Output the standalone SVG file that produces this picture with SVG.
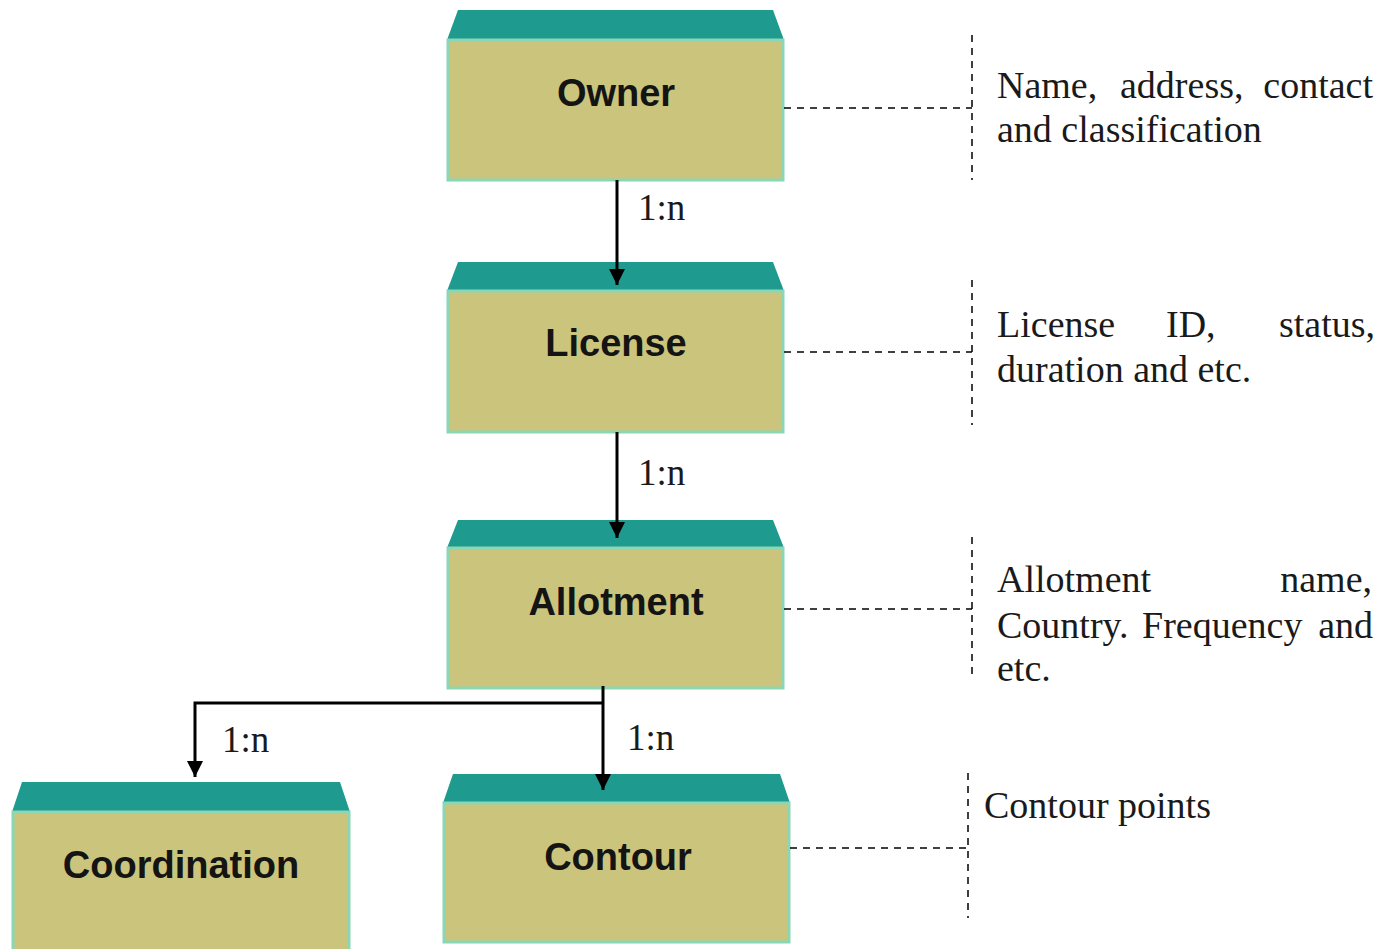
<svg xmlns="http://www.w3.org/2000/svg" width="1385" height="949" viewBox="0 0 1385 949">
<style>
.top{fill:#1f9a8f;}
.body{fill:#cbc47c;stroke:#8ad7b6;stroke-width:3;}
.lbl{font-family:"Liberation Sans",Arial,sans-serif;font-weight:bold;font-size:38px;fill:#141414;text-anchor:middle;}
.note{font-family:"Liberation Serif","Times New Roman",serif;font-size:38px;fill:#1a1a1a;}
.rel{font-family:"Liberation Serif","Times New Roman",serif;font-size:37px;fill:#1a1a1a;}
.conn{stroke:#000;stroke-width:3;fill:none;}
.dash{stroke:#000;stroke-width:1.5;fill:none;stroke-dasharray:7 6;}
</style>
<defs>
<marker id="arr" markerUnits="userSpaceOnUse" markerWidth="16" markerHeight="18" refX="16" refY="8" orient="auto">
<path d="M0,0 L16,8 L0,16 Z" fill="#000"/>
</marker>
</defs>
<rect x="0" y="0" width="1385" height="949" fill="#fff"/>
<g id="owner">
<polygon class="top" points="458,10 773,10 784,40 447,40"/>
<rect class="body" x="448" y="40" width="335" height="140"/>
<text class="lbl" x="616" y="106">Owner</text>
</g>
<g id="license">
<polygon class="top" points="458,262 773,262 784,291 447,291"/>
<rect class="body" x="448" y="291" width="335" height="141"/>
<text class="lbl" x="616" y="356">License</text>
</g>
<g id="allotment">
<polygon class="top" points="458,520 773,520 784,548 447,548"/>
<rect class="body" x="448" y="548" width="335" height="140"/>
<text class="lbl" x="616" y="615">Allotment</text>
</g>
<g id="coordination">
<polygon class="top" points="22,782 340,782 350,812 12,812"/>
<rect class="body" x="13" y="812" width="336" height="140"/>
<text class="lbl" x="181" y="878">Coordination</text>
</g>
<g id="contour">
<polygon class="top" points="453,774 780,774 790,803 443,803"/>
<rect class="body" x="444" y="803" width="345" height="139"/>
<text class="lbl" x="618" y="870">Contour</text>
</g>
<g id="connectors">
<line class="conn" x1="617" y1="180" x2="617" y2="285" marker-end="url(#arr)"/>
<line class="conn" x1="617" y1="432" x2="617" y2="538" marker-end="url(#arr)"/>
<line class="conn" x1="603" y1="686" x2="603" y2="790" marker-end="url(#arr)"/>
<polyline class="conn" points="603,703 195,703 195,777" marker-end="url(#arr)"/>
<text class="rel" x="638" y="220">1:n</text>
<text class="rel" x="638" y="485">1:n</text>
<text class="rel" x="222" y="752">1:n</text>
<text class="rel" x="627" y="750">1:n</text>
<line class="dash" x1="784" y1="108" x2="972" y2="108"/>
<line class="dash" x1="972" y1="35" x2="972" y2="180"/>
<line class="dash" x1="784" y1="352" x2="972" y2="352"/>
<line class="dash" x1="972" y1="280" x2="972" y2="425"/>
<line class="dash" x1="784" y1="609" x2="972" y2="609"/>
<line class="dash" x1="972" y1="537" x2="972" y2="680"/>
<line class="dash" x1="790" y1="848" x2="968" y2="848"/>
<line class="dash" x1="968" y1="773" x2="968" y2="918"/>
</g>
<g id="notes">
<text class="note" x="997" y="98">Name,</text>
<text class="note" x="1120" y="98">address,</text>
<text class="note" x="1373" y="98" text-anchor="end">contact</text>
<text class="note" x="997" y="142">and classification</text>
<text class="note" x="997" y="337">License</text>
<text class="note" x="1166" y="337">ID,</text>
<text class="note" x="1375" y="337" text-anchor="end">status,</text>
<text class="note" x="997" y="382">duration and etc.</text>
<text class="note" x="997" y="592">Allotment</text>
<text class="note" x="1372" y="592" text-anchor="end">name,</text>
<text class="note" x="997" y="638">Country.</text>
<text class="note" x="1142" y="638">Frequency</text>
<text class="note" x="1373" y="638" text-anchor="end">and</text>
<text class="note" x="997" y="681">etc.</text>
<text class="note" x="984" y="818">Contour points</text>
</g>
</svg>
